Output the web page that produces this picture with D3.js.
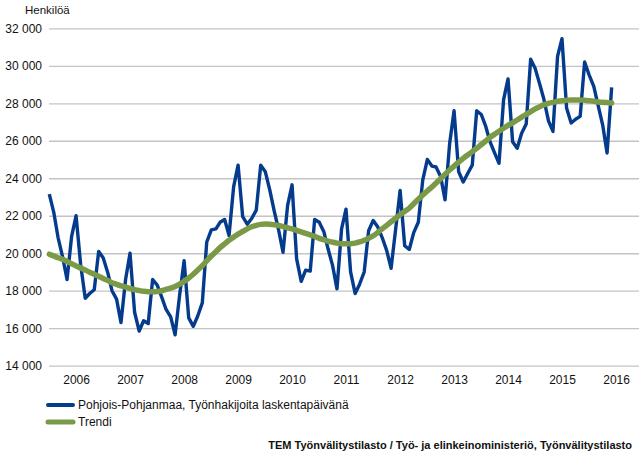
<!DOCTYPE html>
<html>
<head>
<meta charset="utf-8">
<script src="https://cdn.jsdelivr.net/npm/d3@7"></script>
<style>
  body { margin: 0; background: #fff; }
  svg { display: block; font-family: "Liberation Sans", Arial, sans-serif; }
  .grid line { stroke: #c4c4c4; stroke-width: 1.3; }
  .tick text { fill: #111; font-size: 12px; }
</style>
</head>
<body>
<svg id="chart" width="639" height="457"></svg>
<script>
// monthly figures, Jan 2006 .. Jun 2016
var startMonth = new Date(2006, 0, 1)
var seekers = [
  23150, 22150, 20850, 19800, 18600, 20900, 22000, 19400, 17600, 17850, 18050, 20100,
  19750, 18950, 18000, 17550, 16300, 18600, 20000, 16850, 15850, 16400, 16250, 18600,
  18300, 17650, 17000, 16600, 15650, 17800, 19600, 16550, 16100, 16650, 17350, 20600,
  21250, 21300, 21650, 21800, 20950, 23550, 24700, 21950, 21550, 21850, 22300, 24700,
  24350, 23350, 22300, 21250, 20050, 22550, 23650, 19700, 18500, 19100, 19050, 21800,
  21650, 21150, 20250, 19350, 18100, 21300, 22350, 19000, 17850, 18350, 19000, 21200,
  21750, 21400, 20850, 20150, 19200, 21300, 23350, 20400, 20200, 21100, 21650, 23900,
  25000, 24650, 24600, 24100, 22850, 25850, 27600, 24350, 23800, 24250, 24700, 27600,
  27400, 26750, 25950, 25350, 24800, 28200, 29300, 25950, 25600, 26400, 26900, 30350,
  29850, 29000, 28200, 27050, 26500, 30500, 31450, 27750, 26950, 27150, 27300, 30200,
  29500, 28900, 27900, 26850, 25350, 28850
]
var trend = [
  19950, 19850, 19760, 19680, 19560, 19440, 19320, 19210, 19100, 18990, 18880, 18770,
  18650, 18540, 18430, 18340, 18260, 18190, 18120, 18060, 18010, 17970, 17950, 17950,
  17960, 18000, 18070, 18140, 18230, 18350, 18500, 18680, 18880, 19100, 19340, 19590,
  19850, 20080, 20300, 20500, 20690, 20860, 21020, 21160, 21300, 21410, 21490, 21540,
  21560, 21550, 21520, 21480, 21420, 21360, 21300, 21220, 21140, 21060, 20980, 20900,
  20790, 20720, 20650, 20590, 20540, 20510, 20500, 20510, 20540, 20600, 20690, 20800,
  20930, 21110, 21300, 21490, 21680, 21870, 22060, 22230, 22400, 22640, 22880, 23110,
  23320, 23530, 23740, 23980, 24210, 24440, 24650, 24860, 25060, 25240, 25420, 25600,
  25800, 25990, 26180, 26350, 26510, 26670, 26820, 26960, 27110, 27260, 27410, 27560,
  27700, 27820, 27930, 28000, 28050, 28100, 28140, 28160, 28180, 28180, 28180, 28160,
  28140, 28110, 28070, 28050, 28040, 28020
]
var years = [2006, 2007, 2008, 2009, 2010, 2011, 2012, 2013, 2014, 2015, 2016]
var yTicks = [14000, 16000, 18000, 20000, 22000, 24000, 26000, 28000, 30000, 32000]
var seriesNames = ["Pohjois-Pohjanmaa, Työnhakijoita laskentapäivänä", "Trendi"]
var colors = ["#053b8c", "#7b9a48"]

var svg = d3.select("#chart")
var fi = d3.formatLocale({ decimal: ",", thousands: " ", grouping: [3], currency: ["", "€"] })
var fmt = fi.format(",d")

var x = d3.scaleTime()
  .domain([startMonth, new Date(2017, 0, 1)])
  .range([49.3, 643.3])
var y = d3.scaleLinear()
  .domain([14000, 32000])
  .range([365.7, 28.3])

var monthDate = i => d3.timeMonth.offset(startMonth, i)

// gridlines + y labels
var yax = svg.append("g")
  .attr("class", "grid")
  .attr("transform", "translate(49,0)")
  .call(d3.axisLeft(y).tickValues(yTicks).tickSize(-590).tickPadding(7).tickFormat(fmt))
yax.select(".domain").remove()
yax.selectAll(".tick line")
  .attr("stroke-width", d => d == 16000 ? 2.6 : 1.3)
  .attr("stroke", d => d == 16000 ? "#bdbdbd" : "#c4c4c4")

// year labels centred on each year
var xax = svg.append("g")
  .attr("transform", "translate(0,366)")
  .call(d3.axisBottom(x)
    .tickValues(years.map(yr => new Date(yr, 6, 1)))
    .tickSize(0).tickPadding(9)
    .tickFormat(d3.timeFormat("%Y")))
xax.select(".domain").remove()

svg.append("text")
  .attr("x", 25).attr("y", 14)
  .attr("font-size", 11.5).attr("fill", "#111")
  .text("Henkilöä")

var line = d3.line()
  .x((d, i) => x(monthDate(i)))
  .y(d => y(d))

svg.append("path")
  .datum(seekers)
  .attr("fill", "none")
  .attr("stroke", colors[0])
  .attr("stroke-width", 3.4)
  .attr("stroke-linejoin", "round")
  .attr("d", line)

svg.append("path")
  .datum(trend)
  .attr("fill", "none")
  .attr("stroke", colors[1])
  .attr("stroke-width", 5.5)
  .attr("stroke-linecap", "round")
  .attr("stroke-linejoin", "round")
  .attr("d", line.curve(d3.curveMonotoneX))

// legend
var lg = svg.append("g").selectAll("g")
  .data(seriesNames)
  .join("g")
  .attr("transform", (d, i) => "translate(47," + (405 + i * 17) + ")")
lg.append("line")
  .attr("x1", 1).attr("x2", 26)
  .attr("stroke", (d, i) => colors[i])
  .attr("stroke-width", (d, i) => i ? 5 : 4)
  .attr("stroke-linecap", "round")
lg.append("text")
  .attr("x", 31).attr("dy", "0.35em")
  .attr("font-size", 12).attr("fill", "#111")
  .text(d => d)

svg.append("text")
  .attr("x", 632).attr("y", 449)
  .attr("text-anchor", "end")
  .attr("font-size", 11).attr("font-weight", "bold").attr("fill", "#111")
  .text("TEM Työnvälitystilasto / Työ- ja elinkeinoministeriö, Työnvälitystilasto")
</script>
</body>
</html>
